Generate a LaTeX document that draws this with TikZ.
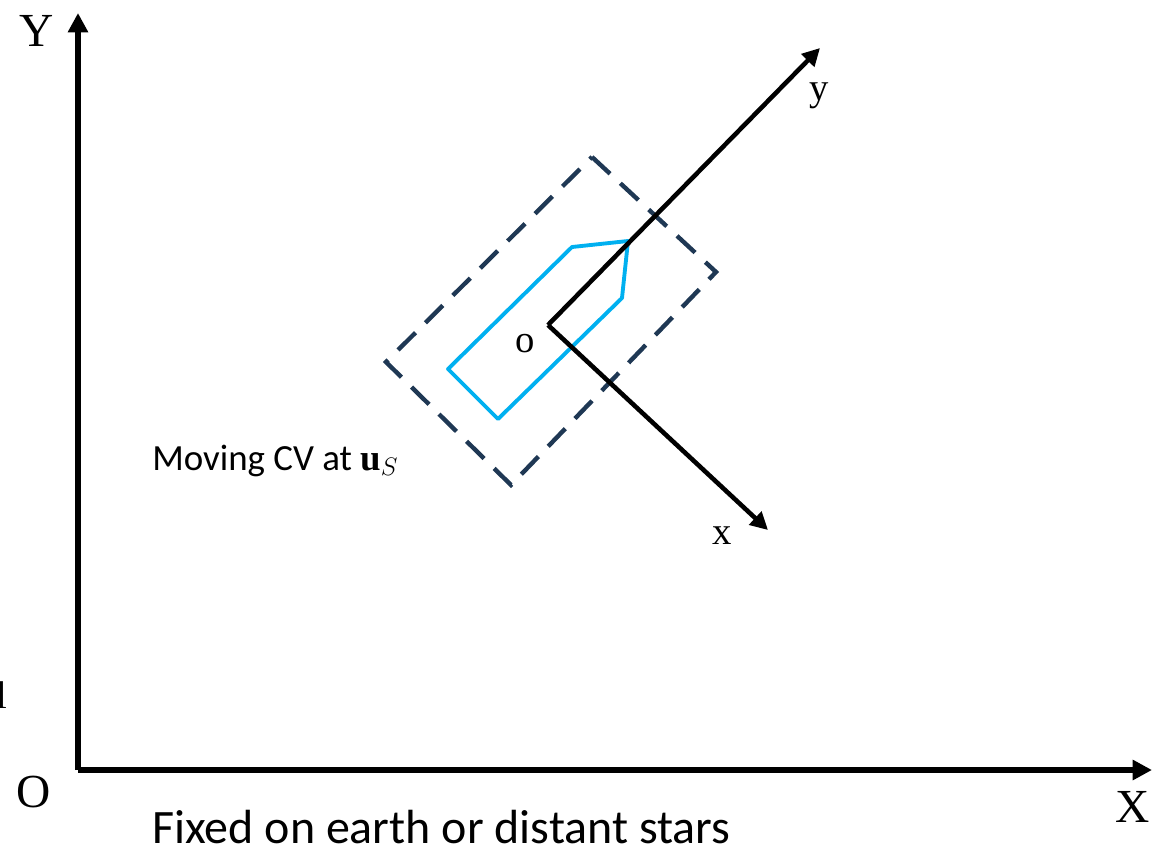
\documentclass[tikz,border=0pt]{standalone}
\usepackage{fontspec}
\setmainfont{Liberation Serif}
\newfontfamily\calibri{Carlito}
\usetikzlibrary{arrows.meta}
\definecolor{hull}{RGB}{0,176,240}
\definecolor{cvline}{RGB}{31,56,84}

\begin{document}
\begin{tikzpicture}[x=0.02cm, y=-0.02cm,
  every node/.style={inner sep=0pt},
  axis/.style={line width=3pt, -{Triangle[length=11pt,width=11pt]}},
  bodyaxis/.style={line width=2.6pt, -{Triangle[length=10pt,width=10pt]}},
  biglbl/.style={font=\fontsize{27}{30}\selectfont},
  smalllbl/.style={font=\fontsize{22}{26}\selectfont}]
\useasboundingbox (0,0) rectangle (1153,849);
% ---- fixed frame
\coordinate (O) at (78,770);
\coordinate (Xend) at (1152,770);
\coordinate (Yend) at (78,13);
\draw[axis] (O) -- (Xend);
\draw[axis] (O) -- (Yend);
\node[biglbl] (lblY) at (37,31) {Y};
\node[biglbl] (lblX) at (1133,807) {X};
\node[biglbl] (lblO) at (34,792) {O};
\node[smalllbl, anchor=east] (lblL) at (8,695) {l};
\node[font=\calibri\fontsize{27.3}{30}\selectfont, anchor=base west] (fixed) at (152,843)
  {Fixed on earth or distant stars};
% ---- moving CV
\draw[cvline, line width=2.5pt, dash pattern=on 14pt off 8pt]
  (592,157) -- (716,272) -- (511,485) -- (386,362) -- cycle;
\draw[hull, line width=2.2pt, line join=round]
  (448,369) -- (498,419) -- (622,298) -- (628,241) -- (572,247) -- cycle;
\node[font=\calibri\fontsize{21}{25}\selectfont, anchor=base west] (moving) at (152,470)
  {Moving CV at $\mathbf{u}_S$};
% ---- body frame
\coordinate (o) at (548,325);
\coordinate (xend) at (768,530);
\coordinate (yend) at (820,48);
\draw[bodyaxis] (o) -- (xend);
\draw[bodyaxis] (o) -- (yend);
\node[smalllbl] (lblo) at (525,344) {o};
\node[smalllbl] (lbly) at (819,96) {y};
\node[smalllbl] (lblx) at (722,536) {x};
\end{tikzpicture}
\end{document}
